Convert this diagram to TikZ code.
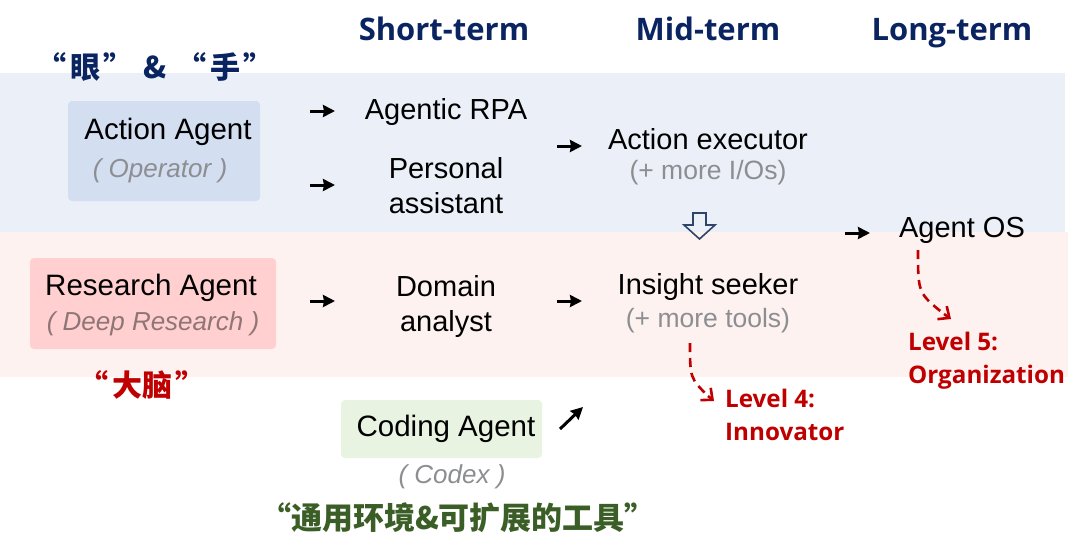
\documentclass[tikz,border=0pt]{standalone}
\usepackage{fontspec}
\setmainfont{Liberation Sans}
\newfontfamily\hdfont{Open Sans}
\newfontfamily\cjk{Noto Sans CJK SC}
\usepackage{xcolor}
\usetikzlibrary{arrows.meta,positioning}
\definecolor{bandblue}{HTML}{EBF0F8}
\definecolor{bandpink}{HTML}{FDF2F0}
\definecolor{boxblue}{HTML}{D3DEF1}
\definecolor{boxpink}{HTML}{FFD0CF}
\definecolor{boxgreen}{HTML}{E8F3E2}
\definecolor{navy}{HTML}{0A2461}
\definecolor{lvlred}{HTML}{C00000}
\definecolor{subgray}{HTML}{8C8E92}
\definecolor{subpink}{HTML}{8F7676}
\definecolor{qgreen}{HTML}{3B5E27}
\definecolor{hollow}{HTML}{2E4468}
\tikzset{
  agbox/.style ={rounded corners=4pt, inner sep=0pt},
  agtxt/.style ={inner sep=0pt, font=\fontsize{29.5}{34}\selectfont},
  sub/.style   ={inner sep=0pt, text=subgray, font=\fontsize{26}{30}\selectfont\itshape},
  stage/.style ={inner sep=0pt, align=center, font=\fontsize{29}{35}\selectfont},
  more/.style  ={inner sep=0pt, text=subgray, font=\fontsize{26.5}{30}\selectfont},
  head/.style  ={inner sep=0pt, anchor=base, text=navy, font=\hdfont\bfseries\fontsize{31}{34}\selectfont},
  lvl/.style   ={inner sep=0pt, anchor=north west, align=left, text=lvlred, font=\hdfont\bfseries\fontsize{24.2}{33}\selectfont},
  quote/.style ={inner sep=0pt, font=\cjk\bfseries\fontsize{30}{34}\selectfont},
  arr/.style   ={-{Stealth[length=12pt,width=12pt,inset=1pt]}, line width=3pt},
  lvldash/.style={dash pattern=on 9pt off 6pt, line width=2.6pt, draw=lvlred},
  lvltip/.style={-{Straight Barb[length=9pt,width=16pt]}, line width=2.6pt, draw=lvlred},
}
\begin{document}
\begin{tikzpicture}[x=1pt, y=-1pt]
  \useasboundingbox (0,0) rectangle (1080,555);
  % bands
  \fill[bandblue] (0,73) rectangle (1065,232);
  \fill[bandpink] (0,232) rectangle (1068,377);
  % column headers
  \node[head] (short) at (444,40) {Short-term};
  \node[head] (mid) at (708,40) {Mid-term};
  \node[head] (long) at (952,40) {Long-term};
  % agents
  \node[agbox, fill=boxblue, minimum width=192pt, minimum height=100pt] (actbox) at (164,151) {};
  \node[agtxt] (act) at (168,132) {Action Agent};
  \node[sub] (oper) at (160,171) {( Operator )};
  \node[agbox, fill=boxpink, minimum width=246pt, minimum height=91pt] (resbox) at (153,303.5) {};
  \node[agtxt] (res) at (151,288) {Research Agent};
  \node[sub, text=subpink] (deep) at (153,324) {( Deep Research )};
  \node[agbox, fill=boxgreen, minimum width=201pt, minimum height=58pt] (codbox) at (441.5,429) {};
  \node[agtxt] (cod) at (446,429) {Coding Agent};
  \node[sub] (codex) at (452,477) {( Codex )};
  % quotes
  \node[quote, text=navy] (eyehand) at (155,67) {“\hspace{4pt}眼\hspace{3pt}”\hspace{10pt}\&\hspace{10pt}“\hspace{4pt}手\hspace{3pt}”};
  \node[quote, text=lvlred] (brain) at (142,385) {“\hspace{4pt}大脑\hspace{3pt}”};
  \node[quote, text=qgreen, font=\cjk\bfseries\fontsize{31}{34}\selectfont] (tools) at (458,518) {“通用环境\&可扩展的工具”};
  % short-term
  \node[stage] (rpa) at (446,112) {Agentic RPA};
  \node[stage] (pers) at (446,186) {Personal\\assistant};
  \node[stage] (dom) at (446,306) {Domain\\analyst};
  % mid-term
  \node[stage] (exec) at (708,139) {Action executor};
  \node[more] (io) at (708,173) {(+ more I/Os)};
  \node[stage] (seek) at (708,287) {Insight seeker};
  \node[more] (tl) at (708,321) {(+ more tools)};
  % long-term
  \node[stage] (os) at (962,230) {Agent OS};
  % levels
  \node[lvl] (lv4) at (725,389) {Level 4:\\Innovator};
  \node[lvl] (lv5) at (908,332) {Level 5:\\Organization};
  % arrow ends
  \coordinate (r1) at (310,111); \coordinate (r1e) at (335,111);
  \coordinate (p1) at (310,185); \coordinate (p1e) at (335,185);
  \coordinate (d1) at (310,301); \coordinate (d1e) at (335,301);
  \coordinate (e1) at (557,146); \coordinate (e1e) at (582,146);
  \coordinate (s1) at (557,301); \coordinate (s1e) at (582,301);
  \coordinate (o1) at (845,233); \coordinate (o1e) at (870,233);
  \coordinate (c1) at (560,429); \coordinate (c1e) at (583,407);
  \coordinate (l4) at (690,343); \coordinate (l4m) at (708,396); \coordinate (l4e) at (714,401);
  \coordinate (l5) at (918,250); \coordinate (l5m) at (944,314); \coordinate (l5e) at (951,319);
  \draw[arr] (r1) -- (r1e);
  \draw[arr] (p1) -- (p1e);
  \draw[arr] (d1) -- (d1e);
  \draw[arr] (e1) -- (e1e);
  \draw[arr] (s1) -- (s1e);
  \draw[arr] (o1) -- (o1e);
  \draw[arr] (c1) -- (c1e);
  \draw[lvldash] (l4) .. controls (690,378) .. (l4m);
  \draw[lvltip] (l4m) -- (l4e);
  \draw[lvldash] (l5) .. controls (918,293) .. (l5m);
  \draw[lvltip] (l5m) -- (l5e);
  % hollow arrow down
  \draw[hollow, line width=1.6pt, line join=miter] (693,213) -- (706,213) -- (706,225) -- (715,225)
    -- (699.5,239) -- (684,225) -- (693,225) -- cycle;
\end{tikzpicture}
\end{document}
